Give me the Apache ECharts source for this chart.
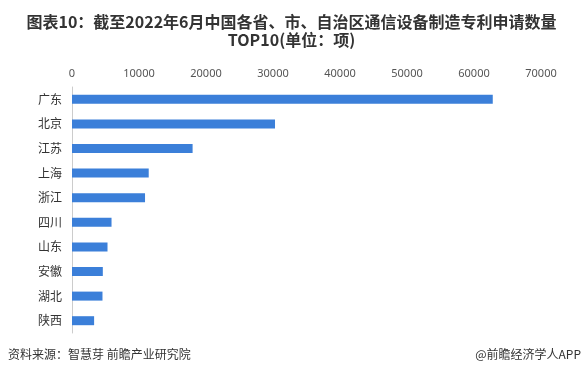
<!DOCTYPE html>
<html>
<head>
<meta charset="utf-8">
<script src="https://cdn.jsdelivr.net/npm/echarts@6/dist/echarts.min.js"></script>
<style>
  html, body { margin: 0; padding: 0; background: #fff; }
  #chart { width: 583px; height: 377px; }
</style>
</head>
<body>
<div id="chart"></div>
<script>
const categories = ['广东', '北京', '江苏', '上海', '浙江', '四川', '山东', '安徽', '湖北', '陕西']
const values = [62800, 30300, 18000, 11450, 10900, 5900, 5300, 4600, 4550, 3300]

const chart = echarts.init(document.getElementById('chart'))

const option = {
  backgroundColor: '#fff',
  title: {
    text: '图表10：截至2022年6月中国各省、市、自治区通信设备制造专利申请数量\nTOP10(单位：项)',
    left: 'center',
    top: 8,
    textStyle: {
      color: '#333',
      fontSize: 16,
      fontWeight: 'bold',
      lineHeight: 18,
      fontFamily: 'Noto Sans CJK SC'
    }
  },
  graphic: [
    {
      type: 'text',
      left: 8,
      top: 348,
      style: { text: '资料来源：智慧芽 前瞻产业研究院', fill: '#333', fontSize: 12, fontFamily: 'Noto Sans CJK SC' }
    },
    {
      type: 'text',
      right: 2,
      top: 348,
      style: { text: '@前瞻经济学人APP', fill: '#333', fontSize: 12, fontFamily: 'Noto Sans CJK SC' }
    }
  ],
  grid: {
    left: 72,
    right: 42,
    top: 87,
    bottom: 44,
    containLabel: false
  },
  xAxis: {
    type: 'value',
    position: 'top',
    min: 0,
    max: 70000,
    interval: 10000,
    axisLine: { show: false },
    axisTick: { show: false },
    splitLine: { show: false },
    axisLabel: { color: '#555', fontSize: 11, margin: 8, fontFamily: 'Noto Sans', formatter: v => String(v) }
  },
  yAxis: {
    type: 'category',
    inverse: true,
    data: categories,
    axisLine: { show: true, lineStyle: { color: '#ccc' } },
    axisTick: { show: false },
    axisLabel: { color: '#333', fontSize: 12, margin: 10, fontFamily: 'Noto Sans CJK SC' }
  },
  series: [
    {
      type: 'bar',
      data: values,
      barWidth: 9,
      itemStyle: { color: '#3b7fd9' }
    }
  ]
}

chart.setOption(option)
</script>
</body>
</html>
